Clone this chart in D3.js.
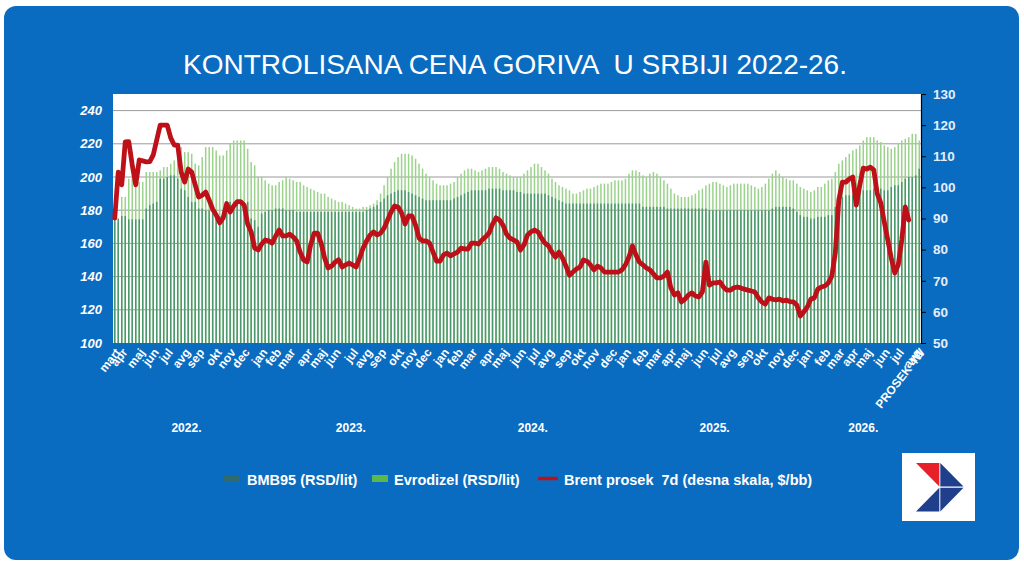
<!DOCTYPE html>
<html><head><meta charset="utf-8">
<script src="https://cdn.jsdelivr.net/npm/d3@7"></script>
<style>
html,body{margin:0;padding:0;background:#fff;}
svg{display:block;}
text{white-space:pre;}
</style></head>
<body>
<svg id="chart" width="1024" height="565"></svg>
<script>
// ---------------- DATA ----------------
const title = "KONTROLISANA CENA GORIVA  U SRBIJI 2022-26.";
// weekly categories (index 0 = week of 18 Mar 2022), last one = "PROSEK 4W"
const categoryCount = 231;
const monthTickIndex = [0,2,7,11,15,20,24,29,33,37,
  42,46,50,55,59,63,68,72,76,81,85,89,
  94,98,102,107,111,116,120,124,129,133,137,142,
  146,151,155,159,163,168,172,176,181,185,190,194,
  198,203,207,211,215,220,224,229,230];
const monthTickLabel = ["mart","apr","maj","jun","jul","avg","sep","okt","nov","dec",
  "jan","feb","mar","apr","maj","jun","jul","avg","sep","okt","nov","dec",
  "jan","feb","mar","apr","maj","jun","jul","avg","sep","okt","nov","dec",
  "jan","feb","mar","apr","maj","jun","jul","avg","sep","okt","nov","dec",
  "jan","feb","mar","apr","maj","jun","jul","avg","PROSEK 4W"];
const yearLabels = ["2022.","2023.","2024.","2025.","2026."];
const yearFirstIndex = [0,42,94,146,198];
const yearLastIndex = [41,93,145,197,230];
const leftTicks = [100,120,140,160,180,200,220,240];
const rightTicks = [50,60,70,80,90,100,110,120,130];
const seriesNames = ["BMB95 (RSD/lit)","Evrodizel (RSD/lit)","Brent prosek  7d (desna skala, $/bb)"];

const evrodizel = [
173,173,188,188,199,199,197,197,197,203,
203,203,203,204,206,206,208,210,218,218,
215,215,214,208,207,212,218,218,218,216,
213,213,216,220,222,222,222,222,217,209,
207,200,200,198,196,195,195,197,198,200,
199,198,197,197,195,194,193,192,191,190,
190,188,187,186,185,185,184,183,182,181,
181,182,182,183,184,186,190,195,200,205,
209,212,214,214,214,213,211,208,205,202,
200,198,196,195,195,195,196,197,200,202,
204,205,205,204,203,204,205,206,206,206,
205,203,202,201,200,200,200,202,204,206,
208,208,206,204,202,199,197,195,194,193,
192,190,190,191,192,193,193,194,195,196,
196,196,197,198,198,198,199,202,204,204,
203,201,200,202,203,202,200,198,196,193,
190,189,188,188,188,189,190,192,193,195,
196,197,197,196,195,194,195,196,196,196,
196,196,195,194,193,194,196,199,202,204,
202,200,199,198,198,196,194,193,192,191,
192,194,194,196,198,199,203,208,210,212,
214,216,217,219,222,224,224,224,222,221,
219,218,217,218,220,222,223,224,226,226,
222];

const bmb95 = [
175,175,176.5,176.5,174.5,174.5,174.5,174.5,174.5,181,
183,184,185,199,199,200,201,201,199,193,
192,188,185,185,181,181,180,180,178,176.5,
176.5,180,185,185,185,185,185,185,185,175,
174,170,178,179,180,180,181,181,181,180,
180,180,179,179,179,179,179,179,179,179,
179,179,179,179,179,179,179,179,179,179,
179,179,180,181,182,183,185,187,189,190,
191,192,192,192,191,190,189,188,187,186,
186,186,186,186,186,186,186,187,188,189,
190,191,192,192,192,192,192,193,193,193,
193,192,192,192,192,191,191,190,190,190,
190,190,190,190,189,188,187,186,185,184,
184,184,184,184,184,184,184,184,184,184,
184,184,184,184,184,184,184,184,184,184,
184,182,182,182,182,182,182,182,181,181,
181,181,181,181,181,181,181,181,181,181,
180,180,180,180,180,180,180,180,180,180,
180,180,180,180,180,180,180,180,181,182,
182,182,182,182,181,179,177,176,176,175,
175,176,176,176,177,177,182,183,188,189,
189,189,189,191,192,192,192,193,193,193,
192,192,194,195,195,197,199,200,200,201,
205];

const brent = [
90.1,104.9,100.8,114.6,114.7,107.2,100.8,108.8,108.5,108.2,
108.3,110.4,115.2,120,120,120,115.9,113.6,113.6,104.9,
101.7,105.9,104.9,100.8,96.9,97.5,98.5,95.9,93,91.1,
88.6,90.2,94.8,92.1,94,95.4,95.4,94.3,88.2,85.7,
80.5,79.9,81.8,83.1,82.8,82.1,84.4,86.3,84.4,84.4,
85,84.1,82.8,79.2,76.7,76,81.5,85.3,85.3,82.1,
77.3,74.1,74.7,76,76.7,74.4,75.1,75.7,75.1,74.4,
77.3,80.5,82.8,84.7,85.7,84.7,85.3,86.9,89.5,92.1,
94,93.7,91.8,88.2,90.8,90.8,87.9,83.7,82.8,82.8,
82.1,79.2,76.3,76.3,78.3,78.9,78,78.6,79.2,80.5,
80.2,80.2,82.1,82.1,81.8,83.1,84.1,85.3,88.2,90.2,
89.5,87.9,85,83.7,83.1,82.5,79.9,81.5,84.7,85.7,
86.3,85.7,83.7,82.1,81.2,79.2,77.6,79.2,77.3,74.7,
71.8,72.8,73.8,74.4,76.7,76.3,75.1,73.5,74.7,74.1,
72.8,72.8,72.8,72.8,72.8,73.5,75.1,77.6,81.2,78.3,
76,75.1,74.1,73.5,72.2,70.9,70.9,71.5,72.8,67.7,
65.4,66.1,63.2,64.1,65.4,66.1,65.1,64.8,66.4,76,
68.6,69.3,69.3,69.6,68,67,67,67.7,68,67.7,
67.3,67,66.7,66.4,64.5,63.2,62.5,64.5,64.1,63.8,
64.1,63.5,63.8,63.3,63.2,62.2,58.7,60,61.6,64.1,
64.5,67.3,68,68.3,69.3,71.5,78.9,95.9,101.7,101.7,
102.7,103.3,94.3,100.8,106.2,105.9,106.5,105.6,97.9,95,
88.9,83.1,77.3,72.5,75.1,83.1,93.7,89.5,null,null,
null];

// ---------------- DRAW ----------------
const W = 1024, H = 565;
const svg = d3.select("#chart");
const FONT = "'Liberation Sans',Arial,sans-serif";

svg.append("rect").attr("x",0).attr("y",0).attr("width",W).attr("height",H).attr("fill","#ffffff");
svg.append("rect").attr("x",4).attr("y",6).attr("width",1015).attr("height",554)
  .attr("rx",12).attr("fill","#0a6cc0");

svg.append("text").attr("x",515).attr("y",74).attr("text-anchor","middle")
  .attr("font-family",FONT).attr("font-size",28).attr("fill","#ffffff")
  .text(title);

const plot = {l:113, r:921, t:94, b:343};
svg.append("rect").attr("x",plot.l).attr("y",plot.t).attr("width",plot.r-plot.l).attr("height",plot.b-plot.t).attr("fill","#ffffff");

const idx = d3.range(categoryCount);
const x = d3.scaleBand().domain(idx).range([plot.l, plot.r]).padding(0);
const yL = d3.scaleLinear().domain([100,250]).range([plot.b, plot.t]);
const yR = d3.scaleLinear().domain([50,130]).range([plot.b, plot.t]);
const cx = i => x(i) + x.bandwidth()/2;

// gridlines
svg.append("g").selectAll("line").data(leftTicks.filter(d=>d>100)).join("line")
  .attr("x1",plot.l).attr("x2",plot.r).attr("y1",d=>yL(d)).attr("y2",d=>yL(d))
  .attr("stroke","#9a9a9a").attr("stroke-width",1);

// bars (overlapping: Evrodizel behind, BMB95 in front)
const bw = 1.5;
svg.append("g").selectAll("rect").data(evrodizel).join("rect")
  .attr("x",(d,i)=>cx(i)-bw/2).attr("width",bw)
  .attr("y",d=>yL(d)).attr("height",d=>yL(100)-yL(d))
  .attr("fill","#9bd38c");
svg.append("g").selectAll("rect").data(bmb95).join("rect")
  .attr("x",(d,i)=>cx(i)-bw/2).attr("width",bw)
  .attr("y",d=>yL(d)).attr("height",d=>yL(100)-yL(d))
  .attr("fill","#4b976e");

// Brent line
const line = d3.line().defined(d=>d!=null).x((d,i)=>cx(i)).y(d=>yR(d)).curve(d3.curveLinear);
svg.append("path").datum(brent).attr("d",line).attr("fill","none")
  .attr("stroke","#bd1019").attr("stroke-width",4.8).attr("stroke-linejoin","round").attr("stroke-linecap","round");

// left axis
const gl = svg.append("g").attr("transform",`translate(${plot.l-11},0)`)
  .call(d3.axisLeft(yL).tickValues(leftTicks).tickSize(0).tickPadding(0));
gl.select(".domain").remove();
gl.selectAll("text").attr("font-family",FONT).attr("font-size",13).attr("font-weight","bold")
  .attr("font-style","italic").attr("fill","#ffffff");

// right axis
const gr = svg.append("g").attr("transform",`translate(${plot.r},0)`)
  .call(d3.axisRight(yR).tickValues(rightTicks).tickSize(5).tickPadding(7));
gr.select(".domain").attr("stroke","#000").attr("stroke-width",1.2);
gr.selectAll(".tick line").attr("stroke","#000");
gr.selectAll("text").attr("font-family",FONT).attr("font-size",13.5).attr("font-weight","bold")
  .attr("fill","#e6eef8");

// month labels
svg.append("g").selectAll("text").data(monthTickIndex).join("text")
  .attr("transform",(d)=>`translate(${cx(d)+3},${plot.b+7}) rotate(-52)`)
  .attr("text-anchor","end").attr("dy","0.35em")
  .attr("font-family",FONT).attr("font-size",12).attr("font-weight","bold").attr("fill","#ffffff")
  .text((d,i)=>monthTickLabel[i]);

// year labels
svg.append("g").selectAll("text").data(yearLabels).join("text")
  .attr("x",(d,i)=>(x(yearFirstIndex[i]) + x(yearLastIndex[i]) + x.bandwidth())/2)
  .attr("y",432).attr("text-anchor","middle")
  .attr("font-family",FONT).attr("font-size",12).attr("font-weight","bold").attr("fill","#ffffff")
  .text(d=>d);

// legend
const lg = svg.append("g").attr("font-family",FONT).attr("font-size",14.5).attr("font-weight","bold").attr("fill","#ffffff");
lg.append("rect").attr("x",224).attr("y",475).attr("width",16).attr("height",7).attr("fill","#2e6a6e");
lg.append("text").attr("x",247).attr("y",485).text(seriesNames[0]);
lg.append("rect").attr("x",372).attr("y",475).attr("width",16).attr("height",7).attr("fill","#5cb84c");
lg.append("text").attr("x",394).attr("y",485).text(seriesNames[1]);
lg.append("line").attr("x1",538).attr("x2",558).attr("y1",478.5).attr("y2",478.5).attr("stroke","#bd1019").attr("stroke-width",3.5);
lg.append("text").attr("x",564).attr("y",485).text(seriesNames[2]);

// logo
const logo = svg.append("g");
logo.append("rect").attr("x",902).attr("y",453).attr("width",73).attr("height",68).attr("fill","#ffffff");
logo.append("polygon").attr("points","916,463 939.3,463 939.3,486.5").attr("fill","#e8202a");
logo.append("polygon").attr("points","940.3,463 963.5,486.5 940.3,486.5").attr("fill","#1f3f8c");
logo.append("polygon").attr("points","940.3,487.7 963.5,487.7 940.3,511.5").attr("fill","#1f3f8c");
logo.append("polygon").attr("points","916,511.5 939.3,487.7 939.3,511.5").attr("fill","#1f3f8c");
</script>
</body></html>
